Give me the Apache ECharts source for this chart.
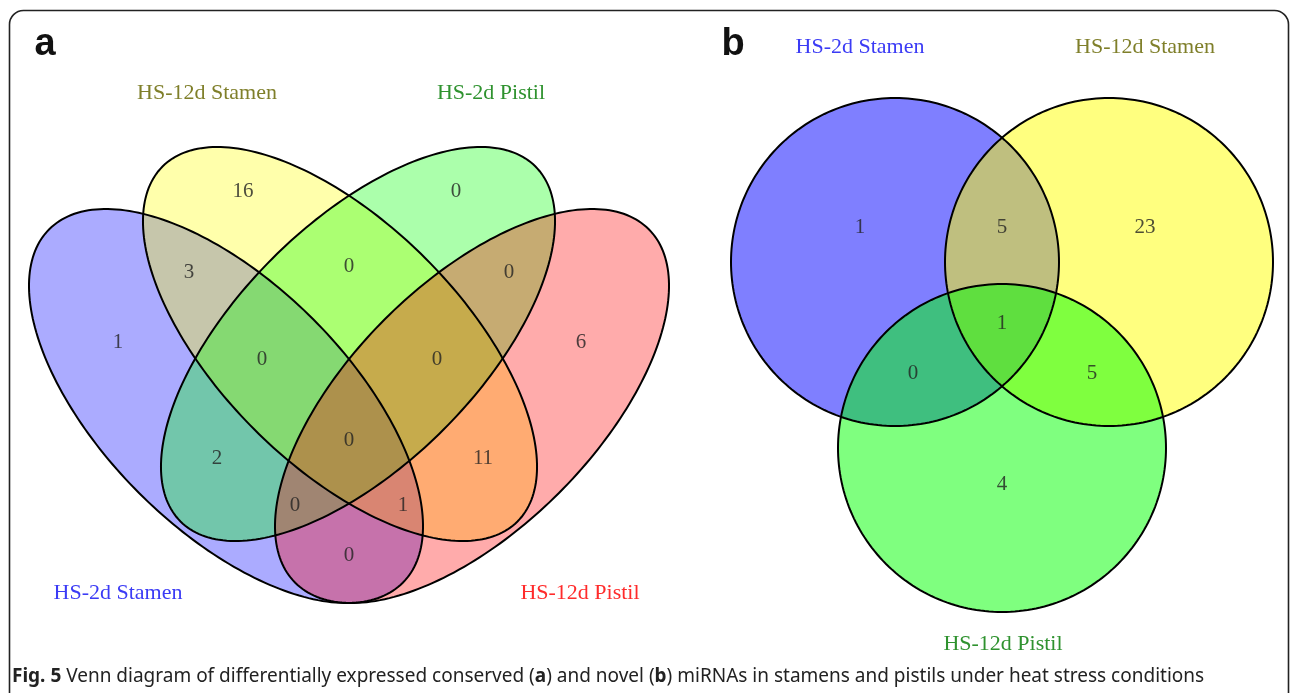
<!DOCTYPE html>
<html>
<head>
<meta charset="utf-8">
<script src="https://cdn.jsdelivr.net/npm/echarts@6/dist/echarts.min.js"></script>
<style>
  html, body { margin: 0; padding: 0; background: #fff; }
  #chart { width: 1290px; height: 693px; }
</style>
</head>
<body>
<div id="chart"></div>
<script>
// ---- Data: conserved miRNAs (panel a, four sets) ----
const conservedSets = ['HS-2d Stamen', 'HS-12d Stamen', 'HS-2d Pistil', 'HS-12d Pistil'];
// region keys list the sets (1-based) that share the miRNAs
const conservedRegions = ['1', '2', '3', '4', '12', '13', '14', '23', '24', '34', '123', '124', '134', '234', '1234'];
const conservedCounts  = [1, 16, 0, 6, 3, 2, 0, 0, 11, 0, 0, 1, 0, 0, 0];

// ---- Data: novel miRNAs (panel b, three sets) ----
const novelSets = ['HS-2d Stamen', 'HS-12d Stamen', 'HS-12d Pistil'];
const novelRegions = ['1', '2', '3', '12', '13', '23', '123'];
const novelCounts  = [1, 23, 4, 5, 0, 5, 1];

// ---- Layout (canvas units, y downward) ----
const layoutA = {
  shapes: [
    { cx: 226, cy: 406, a: 250, b: 123, rot: 45 },
    { cx: 340, cy: 344, a: 251, b: 121, rot: 45 },
    { cx: 358, cy: 344, a: 251, b: 121, rot: -45 },
    { cx: 472, cy: 406, a: 250, b: 123, rot: -45 }
  ],
  fills: ['#0000ff', '#ffff00', '#00ff00', '#ff0000'],
  fillOpacity: 0.33,
  namePos: [[118, 593], [207, 93], [491, 93], [580, 593]],
  nameColors: ['#3b3bf5', '#7f7f2a', '#2f922f', '#ff2b2b'],
  countPos: {
    '1': [118, 342], '2': [243, 191], '3': [456, 191], '4': [581, 342],
    '12': [189, 272], '13': [217, 458], '14': [349, 555], '23': [349, 266],
    '24': [483, 458], '34': [509, 272], '123': [262, 359], '124': [403, 505],
    '134': [295, 505], '234': [437, 359], '1234': [349, 440]
  }
};
const layoutB = {
  shapes: [
    { cx: 895, cy: 262, a: 164, b: 164, rot: 0 },
    { cx: 1109, cy: 262, a: 164, b: 164, rot: 0 },
    { cx: 1002, cy: 448, a: 164, b: 164, rot: 0 }
  ],
  fills: ['#0000ff', '#ffff00', '#00ff00'],
  fillOpacity: 0.5,
  namePos: [[860, 47], [1145, 47], [1003, 644]],
  nameColors: ['#3b3bf5', '#7f7f2a', '#2f922f'],
  countPos: {
    '1': [860, 227], '2': [1145, 227], '3': [1002, 484],
    '12': [1002, 227], '13': [913, 373], '23': [1092, 373], '123': [1002, 323]
  }
};

const W = 1290, H = 693;
const serif = '"Liberation Serif", "DejaVu Serif", serif';

function ellipsePoints(s, api) {
  const pts = [];
  const r = s.rot * Math.PI / 180;
  for (let k = 0; k < 240; k++) {
    const t = k / 240 * Math.PI * 2;
    const u = s.a * Math.cos(t), v = s.b * Math.sin(t);
    pts.push(api.coord([s.cx + u * Math.cos(r) - v * Math.sin(r),
                        s.cy + u * Math.sin(r) + v * Math.cos(r)]));
  }
  return pts;
}

function shapeSeries(sets, layout, kind) {
  return {
    type: 'custom',
    coordinateSystem: 'cartesian2d',
    clip: false,
    silent: true,
    z: kind === 'fill' ? 2 : 3,
    data: sets.map((name, i) => ({ name, value: [i, 0] })),
    renderItem(params, api) {
      const s = layout.shapes[params.dataIndex];
      const style = kind === 'fill'
        ? { fill: layout.fills[params.dataIndex], opacity: layout.fillOpacity, stroke: null }
        : { fill: 'none', stroke: '#000', lineWidth: 2 };
      return { type: 'polygon', shape: { points: ellipsePoints(s, api) }, style };
    }
  };
}

function countSeries(regions, counts, layout) {
  return {
    type: 'scatter',
    symbolSize: 0,
    silent: true,
    z: 5,
    data: regions.map((key, i) => ({
      value: [layout.countPos[key][0], layout.countPos[key][1], counts[i]]
    })),
    label: {
      show: true,
      position: 'inside',
      formatter: p => String(p.value[2]),
      fontFamily: serif,
      fontSize: 21,
      color: '#222'
    }
  };
}

function nameTexts(sets, layout) {
  return sets.map((name, i) => ({
    type: 'text',
    x: layout.namePos[i][0],
    y: layout.namePos[i][1],
    z: 10,
    style: {
      text: name,
      fill: layout.nameColors[i],
      font: '22px ' + serif,
      textAlign: 'center',
      textVerticalAlign: 'middle'
    }
  }));
}

const chart = echarts.init(document.getElementById('chart'), null, { renderer: 'canvas' });
chart.setOption({
  animation: false,
  backgroundColor: '#fff',
  grid: { left: 0, top: 0, width: W, height: H },
  xAxis: { type: 'value', min: 0, max: W, show: false },
  yAxis: { type: 'value', min: 0, max: H, inverse: true, show: false },
  series: [
    shapeSeries(conservedSets, layoutA, 'fill'),
    shapeSeries(conservedSets, layoutA, 'line'),
    shapeSeries(novelSets, layoutB, 'fill'),
    shapeSeries(novelSets, layoutB, 'line'),
    countSeries(conservedRegions, conservedCounts, layoutA),
    countSeries(novelRegions, novelCounts, layoutB)
  ],
  graphic: [
    {
      type: 'rect', z: 1,
      shape: { x: 9.5, y: 10.5, width: 1279, height: 720, r: 14 },
      style: { fill: 'none', stroke: '#222', lineWidth: 1.6 }
    },
    {
      type: 'text', x: 45, y: 45, z: 10,
      style: { text: 'a', font: 'bold 38px "Liberation Sans", Arial, sans-serif', fill: '#111',
               textAlign: 'center', textVerticalAlign: 'middle' }
    },
    {
      type: 'text', x: 733, y: 45, z: 10,
      style: { text: 'b', font: 'bold 38px "Liberation Sans", Arial, sans-serif', fill: '#111',
               textAlign: 'center', textVerticalAlign: 'middle' }
    },
    ...nameTexts(conservedSets, layoutA),
    ...nameTexts(novelSets, layoutB),
    {
      type: 'text', x: 12, y: 677, z: 10,
      style: {
        text: '{b|Fig. 5} Venn diagram of differentially expressed conserved ({b|a}) and novel ({b|b}) miRNAs in stamens and pistils under heat stress conditions',
        font: '19px "Noto Sans", "Open Sans", sans-serif',
        fill: '#222',
        textAlign: 'left',
        textVerticalAlign: 'middle',
        rich: {
          b: { fontWeight: 'bold', fontSize: 19, fontFamily: '"Noto Sans", "Open Sans", sans-serif', fill: '#222' }
        }
      }
    }
  ]
});
</script>
</body>
</html>
